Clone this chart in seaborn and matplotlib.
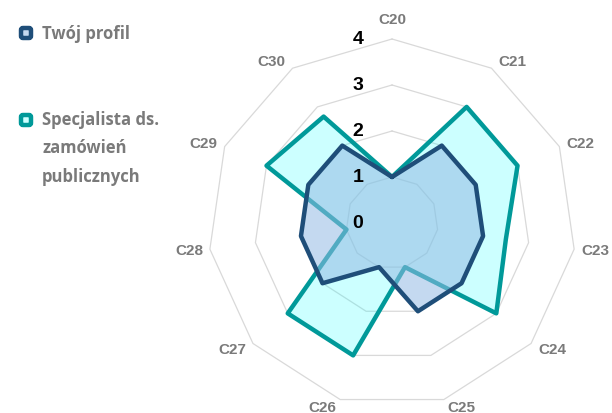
import numpy as np
import matplotlib.pyplot as plt
import seaborn as sns
from matplotlib.patches import FancyBboxPatch
from matplotlib.transforms import IdentityTransform

categories = ['C20', 'C21', 'C22', 'C23', 'C24', 'C25', 'C26', 'C27', 'C28', 'C29', 'C30']
twoj_profil = [1, 2, 2, 2, 2, 2, 1, 2, 2, 2, 2]
specjalista = [1, 3, 3, 2.5, 3, 1, 3, 3, 1, 3, 2.75]
radial_ticks = [0, 1, 2, 3, 4]
series_names = ['Twój profil', 'Specjalista ds.\nzamówień\npublicznych']

sns.set_theme(style='white')
plt.rcParams['font.family'] = ['Liberation Sans', 'DejaVu Sans']

navy = '#1F4E79'
teal = '#009999'
navy_fill = (149 / 255, 186 / 255, 228 / 255)
cyan_fill = (0.0, 1.0, 1.0)
grid_col = '#D9D9D9'
label_col = '#7A7A7A'

fig = plt.figure(figsize=(6.12, 4.14), dpi=100)
ax = fig.add_axes([0.3399, 0.0145, 0.6013, 0.8889], projection='polar')
ax.set_theta_zero_location('N')
ax.set_theta_direction(-1)
ax.set_ylim(0, 4)
ax.set_xticks([])
ax.set_yticks([])
ax.grid(False)
ax.spines['polar'].set_visible(False)
ax.patch.set_alpha(0)

n = len(categories)
angles = np.linspace(0, 2 * np.pi, n, endpoint=False)
closed = np.append(angles, angles[0])

# polygon gridlines
for r in radial_ticks[1:]:
    ax.plot(closed, [r] * (n + 1), color=grid_col, lw=0.9, zorder=1, clip_on=False)

# specialist series
spec = np.append(specjalista, specjalista[0])
ax.fill(closed, spec, color=cyan_fill, alpha=0.2, lw=0, zorder=2)
sns.lineplot(x=closed, y=spec, ax=ax, color=teal, lw=3.2, sort=False,
             estimator=None, zorder=3)

# own profile series
own = np.append(twoj_profil, twoj_profil[0])
ax.fill(closed, own, color=navy_fill, alpha=0.55, lw=0, zorder=4)
sns.lineplot(x=closed, y=own, ax=ax, color=navy, lw=3.2, sort=False,
             estimator=None, zorder=5)
ax.set_xlabel('')
ax.set_ylabel('')

# category labels around the outer ring
for a, lab in zip(angles, categories):
    s, c = np.sin(a), np.cos(a)
    dx = 21 * np.clip(3 * s, -1, 1)
    dy = 8 * c + (12 if abs(s) < 0.1 else 0)
    ax.annotate(lab, xy=(a, 4), xytext=(dx, dy), textcoords='offset pixels',
                ha='center', va='center', fontsize=11, fontweight='bold',
                color=label_col, annotation_clip=False)

# radial value labels
for r in radial_ticks:
    ax.annotate(str(r), xy=(0, r), xytext=(-34, 0), textcoords='offset pixels',
                ha='center', va='center', fontsize=14, fontweight='bold',
                color='black', annotation_clip=False, zorder=7)

# legend drawn by hand
H = 414
def legend_marker(cx, cy, edge, face):
    box = FancyBboxPatch((cx - 5, H - cy - 5), 10, 10,
                         boxstyle='round,pad=0,rounding_size=2',
                         transform=IdentityTransform(), facecolor=face,
                         edgecolor=edge, lw=3.2)
    fig.add_artist(box)

legend_marker(26, 34, navy, (197 / 255, 217 / 255, 240 / 255))
legend_marker(26, 121, teal, (204 / 255, 255 / 255, 255 / 255))

leg_font = dict(fontsize=12, fontweight='bold', color=label_col,
                family=['Open Sans', 'DejaVu Sans'], va='baseline', ha='left')
fig.text(42 / 612, 1 - 39 / H, series_names[0], **leg_font)
for line, base in zip(series_names[1].split('\n'), [125, 153.5, 182]):
    fig.text(42 / 612, 1 - base / H, line, **leg_font)

fig.savefig('out.png', dpi=100)
